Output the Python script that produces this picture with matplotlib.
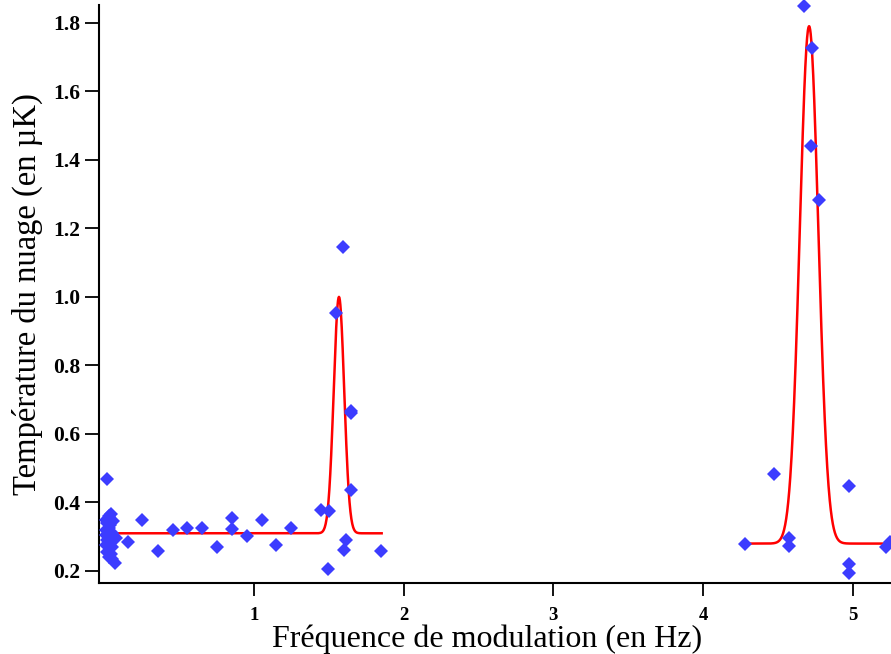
import numpy as np
import matplotlib
matplotlib.use("Agg")
import matplotlib.pyplot as plt

# Measured cloud temperatures (uK) vs modulation frequency (Hz)
freq_low = [0.02, 0.01, 0.03, 0.045, 0.02, 0.04, 0.06, 0.01, 0.035, 0.05,
            0.015, 0.04, 0.065, 0.02, 0.045, 0.08, 0.01, 0.03, 0.055, 0.02,
            0.045, 0.03, 0.055, 0.07, 0.158]
temp_low = [0.468, 0.35, 0.36, 0.365, 0.34, 0.335, 0.345, 0.32, 0.325, 0.31,
            0.305, 0.30, 0.30, 0.29, 0.285, 0.295, 0.275, 0.27, 0.27, 0.255,
            0.25, 0.24, 0.235, 0.223, 0.285]

freq_mid = [0.25, 0.358, 0.458, 0.555, 0.655, 0.753, 0.853, 0.853, 0.953, 1.055,
            1.15, 1.25, 1.447, 1.50, 1.496, 1.547, 1.598, 1.60, 1.618, 1.645,
            1.648, 1.65, 1.849]
temp_mid = [0.349, 0.257, 0.319, 0.325, 0.324, 0.27, 0.354, 0.322, 0.303, 0.349,
            0.276, 0.324, 0.377, 0.375, 0.205, 0.953, 1.147, 0.262, 0.29, 0.668,
            0.66, 0.435, 0.259]

freq_high = [4.28, 4.473, 4.573, 4.573, 4.673, 4.72, 4.727, 4.773, 4.973, 4.973,
             4.973, 5.218, 5.25]
temp_high = [0.279, 0.482, 0.297, 0.273, 1.85, 1.44, 1.725, 1.282, 0.449, 0.221,
             0.193, 0.271, 0.285]

# Gaussian fits: [start, stop, baseline, amplitude, centre, sigma]
fit_1 = [0.017, 1.853, 0.31, 0.69, 1.568, 0.035]
fit_2 = [4.28, 5.3, 0.28, 1.51, 4.707, 0.062]

x_ticks = [1, 2, 3, 4, 5]
y_ticks = [0.2, 0.4, 0.6, 0.8, 1.0, 1.2, 1.4, 1.6, 1.8]


def gauss_fit(p, n=600):
    x = np.linspace(p[0], p[1], n)
    return x, p[2] + p[3] * np.exp(-0.5 * ((x - p[4]) / p[5]) ** 2)


plt.rcParams['font.family'] = ['Liberation Serif', 'DejaVu Serif']

fig = plt.figure(figsize=(8.91, 6.54), dpi=100)
ax = fig.add_axes([0.111, 0.1086, 0.889, 0.8838])

blue = '#3c3cff'
for fx, ty in [(freq_low, temp_low), (freq_mid, temp_mid), (freq_high, temp_high)]:
    ax.plot(fx, ty, 'D', color=blue, markersize=7.5, markeredgewidth=0, clip_on=False, zorder=3)

for p in [fit_1, fit_2]:
    xf, yf = gauss_fit(p)
    ax.plot(xf, yf, '-', color='red', lw=1.8, zorder=2)

ax.set_xlim(-0.035, 5.254)
ax.set_ylim(0.165, 1.852)
ax.set_xticks(x_ticks)
ax.set_yticks(y_ticks)
ax.set_xticklabels([str(t) for t in x_ticks], fontweight='bold', fontsize=13.5)
ax.set_yticklabels([f"{t:.1f}" for t in y_ticks], fontweight='bold', fontsize=15.5)
ax.tick_params(axis='x', direction='out', length=9, width=1.3, pad=8)
ax.tick_params(axis='y', direction='out', length=10, width=1.3, pad=3.6)

for s in ['top', 'right']:
    ax.spines[s].set_visible(False)
for s in ['left', 'bottom']:
    ax.spines[s].set_linewidth(1.5)

ax.set_xlabel("Fréquence de modulation (en Hz)", fontsize=23, labelpad=1)
ax.xaxis.label.set_x(0.49)
ax.set_ylabel("Température du nuage (en µK)", fontsize=23.5, labelpad=7)

fig.savefig("out.png", dpi=100)
